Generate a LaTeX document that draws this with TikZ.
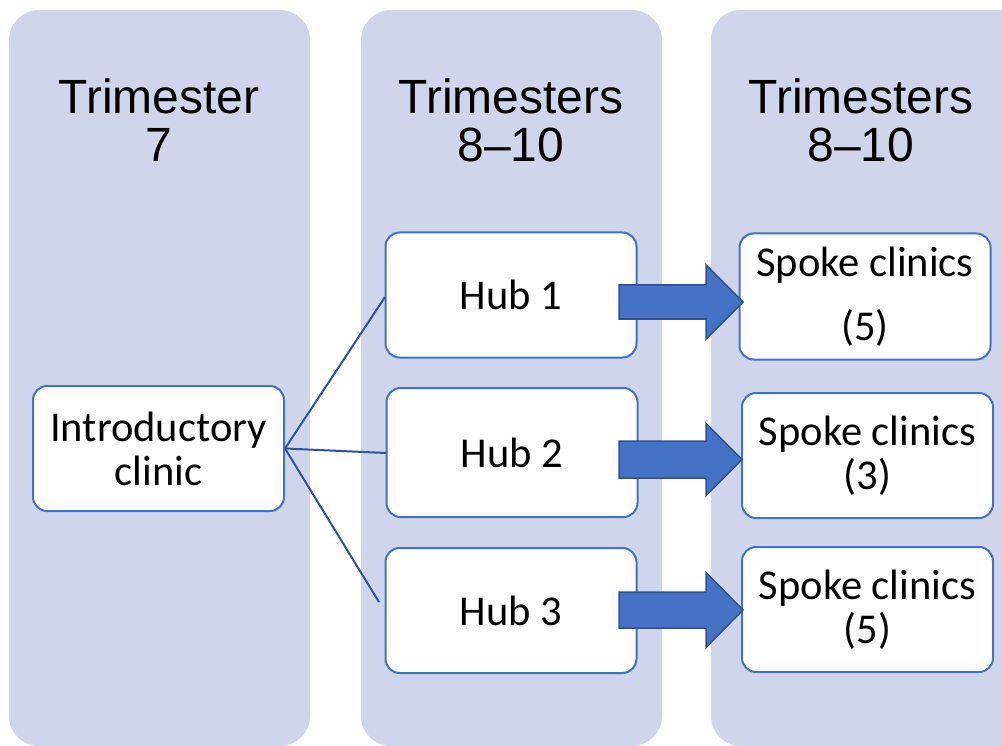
\documentclass[tikz,border=0pt]{standalone}
\usepackage{fontspec}
\setmainfont{Carlito}
\newfontfamily\headfont{Liberation Sans}
\definecolor{panel}{HTML}{CFD5EA}
\definecolor{edge}{HTML}{4472C4}
\definecolor{link}{HTML}{2F5597}
\definecolor{arrowline}{HTML}{2F528F}
\tikzset{
  panelbox/.style={fill=panel, rounded corners=30pt},
  heading/.style={font=\headfont\fontsize{48}{48}\selectfont, align=center, text=black},
  clinic/.style={draw=edge, line width=2pt, fill=white, rounded corners=14pt,
    minimum width=251pt, minimum height=125pt, inner sep=0pt,
    font=\fontsize{42.5}{44}\selectfont, align=center},
  link/.style={draw=link, line width=2pt},
  blockarrow/.style={draw=arrowline, fill=edge, line width=1.5pt, line join=miter},
}
% block arrow: tail x, tip x, head base x, centre y, half shaft, half head
\newcommand\blockarrow[6]{%
  \filldraw[blockarrow] (#1,#4-#5) -- (#3,#4-#5) -- (#3,#4-#6) -- (#2,#4)
    -- (#3,#4+#6) -- (#3,#4+#5) -- (#1,#4+#5) -- cycle;}
\begin{document}
\begin{tikzpicture}[x=1pt,y=-1pt]
\useasboundingbox (0,0) rectangle (1002,746);
\clip (0,0) rectangle (1002,746);
\fill[white] (0,0) rectangle (1002,746);

% three column panels
\fill[panelbox] (9,10) rectangle (310,746);
\fill[panelbox] (361,10) rectangle (662,746);
\fill[panelbox] (711,10) rectangle (1040,746);

% column headings
\node[heading] (h1) at (159,120) {Trimester\\7};
\node[heading] (h2) at (511,120) {Trimesters\\8–10};
\node[heading] (h3) at (861,120) {Trimesters\\8–10};

% clinic boxes
\node[clinic] (intro) at (158.5,448.5) {Introductory\\clinic};
\node[clinic] (hub1) at (511,295) {Hub 1};
\node[clinic, minimum height=129pt] (hub2) at (512,452.5) {Hub 2};
\node[clinic] (hub3) at (511,610.5) {Hub 3};
\node[clinic, minimum height=126pt] (sp1) at (865,296.5) {Spoke clinics\\[20pt](5)};
\node[clinic] (sp2) at (867.5,455.5) {Spoke clinics\\(3)};
\node[clinic] (sp3) at (867.5,609.5) {Spoke clinics\\(5)};

% connectors from the introductory clinic to the hubs
\coordinate (c1) at (385,297);
\coordinate (c2) at (386,453);
\coordinate (c3) at (379,602);
\draw[link] (intro.east) -- (c1);
\draw[link] (intro.east) -- (c2);
\draw[link] (intro.east) -- (c3);

% block arrows from hubs to spokes
\blockarrow{619}{743}{706}{302}{17}{37}
\blockarrow{619}{742}{706}{459.5}{18.5}{36}
\blockarrow{619}{743}{706}{610}{18}{37.5}
\end{tikzpicture}
\end{document}
